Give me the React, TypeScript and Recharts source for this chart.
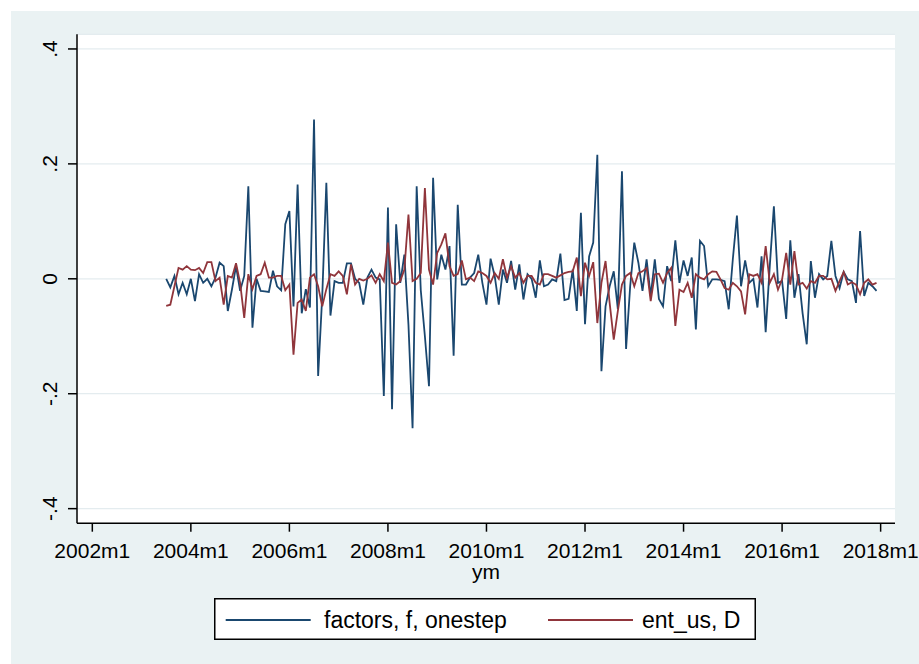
import React from 'react';
import { LineChart, Line, XAxis, YAxis, CartesianGrid, Legend } from 'recharts';

// months counted from 2002m1 (= 0); first observation is 2003m7
const startMonth = 18;

const factorsF = [
  0.0, -0.015, 0.005, -0.027, -0.007, -0.027, 0.0, -0.039, 0.008, -0.007,
  0.0, -0.013, 0.002, 0.028, 0.022, -0.056, -0.019, 0.022, -0.021, 0.005,
  0.161, -0.085, 0.0, -0.021, -0.022, -0.023, 0.014, -0.013, -0.02, 0.095,
  0.118, -0.048, 0.164, -0.06, -0.018, -0.05, 0.277, -0.169, -0.03, 0.167,
  -0.064, -0.004, -0.007, -0.007, 0.027, 0.027, 0.0, -0.007, -0.045, 0.002,
  0.016, 0.002, -0.001, -0.204, 0.124, -0.227, 0.095, -0.007, 0.042, -0.08,
  -0.26, 0.161, -0.02, -0.1, -0.187, 0.176, -0.001, 0.042, 0.016, 0.057,
  -0.134, 0.129, -0.01, -0.01, 0.002, 0.01, 0.042, -0.007, -0.045, 0.035,
  0.005, -0.045, 0.016, -0.007, 0.031, -0.019, 0.025, -0.036, 0.008, 0.0,
  -0.033, 0.032, -0.013, -0.01, -0.001, -0.004, 0.044, -0.037, -0.035, 0.016,
  -0.056, 0.115, -0.079, 0.039, 0.063, 0.216, -0.161, -0.048, -0.013, 0.013,
  -0.053, 0.187, -0.122, -0.013, 0.063, 0.028, -0.021, 0.034, -0.03, 0.034,
  -0.035, -0.048, 0.022, -0.004, 0.067, -0.007, 0.032, 0.005, 0.037, -0.088,
  0.066, 0.057, -0.013, -0.001, -0.001, -0.002, -0.004, -0.053, 0.034, 0.11,
  -0.013, 0.032, -0.007, 0.0, -0.05, 0.039, -0.093, 0.022, 0.126, -0.007,
  -0.004, -0.07, 0.067, -0.033, 0.008, -0.06, -0.114, 0.031, -0.033, 0.008,
  -0.001, 0.005, 0.066, 0.005, -0.016, 0.012, -0.001, -0.004, -0.042, 0.083,
  -0.03, -0.007, -0.013, -0.021,
];

const entUsD = [
  -0.047, -0.045, -0.013, 0.019, 0.016, 0.022, 0.016, 0.015, 0.019, 0.01,
  0.029, 0.029, -0.004, 0.002, -0.045, 0.005, 0.002, 0.027, -0.007, -0.068,
  0.008, -0.018, 0.005, 0.008, 0.028, 0.002, 0.002, 0.005, 0.005, -0.02,
  -0.01, -0.132, -0.042, -0.036, -0.056, 0.002, 0.008, -0.013, -0.048, -0.018,
  0.008, 0.005, 0.013, 0.005, -0.027, 0.025, -0.01, 0.0, -0.003, 0.0,
  0.006, -0.007, 0.008, -0.004, 0.063, -0.007, -0.01, -0.004, 0.016, 0.112,
  -0.004, 0.0, 0.01, 0.158, 0.016, -0.01, 0.045, 0.06, 0.079, 0.022,
  0.005, 0.008, 0.032, -0.001, 0.002, -0.004, 0.013, 0.01, 0.005, -0.007,
  0.01, 0.0, 0.034, 0.002, 0.022, 0.002, 0.01, -0.007, 0.005, 0.005,
  -0.007, -0.01, 0.008, 0.008, 0.005, 0.002, 0.006, 0.01, 0.012, 0.013,
  0.037, -0.03, 0.028, 0.005, 0.029, -0.077, -0.007, 0.031, -0.042, -0.106,
  -0.056, -0.01, 0.005, 0.01, -0.013, 0.01, 0.013, 0.019, -0.039, 0.008,
  0.009, -0.007, 0.01, 0.019, -0.082, -0.019, -0.023, -0.007, -0.033, 0.008,
  0.002, -0.001, 0.008, 0.013, 0.012, -0.001, -0.016, -0.019, -0.007, -0.013,
  -0.022, -0.062, 0.008, 0.005, 0.008, -0.007, 0.057, -0.007, 0.008, -0.019,
  -0.001, 0.045, -0.01, 0.048, -0.01, -0.007, -0.017, -0.004, -0.007, 0.005,
  0.005, -0.001, 0.0, -0.021, -0.004, 0.012, -0.01, -0.006, -0.01, -0.027,
  -0.007, -0.001, -0.01, -0.007,
];

const xTickMonths = [0, 24, 48, 72, 96, 120, 144, 168, 192];
const xTickLabels = ['2002m1', '2004m1', '2006m1', '2008m1', '2010m1', '2012m1', '2014m1', '2016m1', '2018m1'];
const yTicks = [-0.4, -0.2, 0, 0.2, 0.4];
const yTickLabels = ['-.4', '-.2', '0', '.2', '.4'];
const seriesNames = ['factors, f, onestep', 'ent_us, D'];
const xAxisTitle = 'ym';

const BLUE = '#1A476F';
const RED = '#90353B';
const BG = '#EAF2F3';
const FONT = '"Liberation Sans", Arial, Helvetica, sans-serif';

const data = factorsF.map((f, i) => ({ ym: startMonth + i, f, d: entUsD[i] }));

const YTick = (props: any) => {
  const { x, y, payload } = props;
  const idx = yTicks.findIndex((t) => Math.abs(t - payload.value) < 1e-9);
  return (
    <text
      x={x}
      y={y}
      transform={`rotate(-90 ${x} ${y})`}
      textAnchor="middle"
      fontSize={21}
      fontFamily={FONT}
      fill="#000"
    >
      {idx >= 0 ? yTickLabels[idx] : payload.value}
    </text>
  );
};

const XTitle = (props: any) => {
  const vb = props.viewBox || {};
  return (
    <text
      x={vb.x + vb.width / 2}
      y={vb.y + 56}
      textAnchor="middle"
      fontSize={21}
      fontFamily={FONT}
      fill="#000"
    >
      {xAxisTitle}
    </text>
  );
};

const LegendBox = () => (
  <svg width={542} height={42} style={{ display: 'block' }}>
    <rect x={0.75} y={0.75} width={540.5} height={40.5} fill="#fff" stroke="#000" strokeWidth={1.5} />
    <line x1={11.7} x2={96.7} y1={22} y2={22} stroke={BLUE} strokeWidth={1.8} />
    <text x={110} y={30} fontSize={23} fontFamily={FONT} fill="#000">{seriesNames[0]}</text>
    <line x1={334} x2={419} y1={22} y2={22} stroke={RED} strokeWidth={1.8} />
    <text x={428} y={30} fontSize={23} fontFamily={FONT} fill="#000">{seriesNames[1]}</text>
  </svg>
);

export default function App() {
  return (
    <div style={{ position: 'absolute', left: 0, top: 0, width: 919, height: 664, background: '#fff' }}>
      <div style={{ position: 'absolute', left: 11, top: 11, width: 908, height: 653, background: BG }}>
        <LineChart
          width={908}
          height={653}
          data={data}
          margin={{ top: 23.3, right: 24, bottom: 68.7, left: 0 }}
        >
          <CartesianGrid horizontal vertical={false} fill="#fff" stroke="#E4ECEF" strokeWidth={1.2} />
          <XAxis
            dataKey="ym"
            type="number"
            domain={[-3.73, 195.5]}
            ticks={xTickMonths}
            tickFormatter={(v: number) => xTickLabels[xTickMonths.indexOf(v)] ?? String(v)}
            allowDataOverflow
            height={30}
            axisLine={{ stroke: '#000', strokeWidth: 1.5 }}
            tickLine={{ stroke: '#000', strokeWidth: 1.5 }}
            tickSize={8.4}
            tickMargin={11.6}
            tick={{ fontSize: 21, fontFamily: FONT, fill: '#000' }}
            label={<XTitle />}
          />
          <YAxis
            type="number"
            domain={[-0.4255, 0.4255]}
            ticks={yTicks}
            allowDataOverflow
            width={66}
            axisLine={{ stroke: '#000', strokeWidth: 1.5 }}
            tickLine={{ stroke: '#000', strokeWidth: 1.5 }}
            tickSize={9}
            tickMargin={10.5}
            tick={<YTick />}
          />
          <Legend
            verticalAlign="bottom"
            align="left"
            width={542}
            content={<LegendBox />}
            wrapperStyle={{ left: 203, top: 586.7, width: 542, height: 42 }}
          />
          <Line
            type="linear"
            dataKey="f"
            name={seriesNames[0]}
            stroke={BLUE}
            strokeWidth={1.8}
            dot={false}
            isAnimationActive={false}
          />
          <Line
            type="linear"
            dataKey="d"
            name={seriesNames[1]}
            stroke={RED}
            strokeWidth={1.8}
            dot={false}
            isAnimationActive={false}
          />
        </LineChart>
      </div>
    </div>
  );
}
